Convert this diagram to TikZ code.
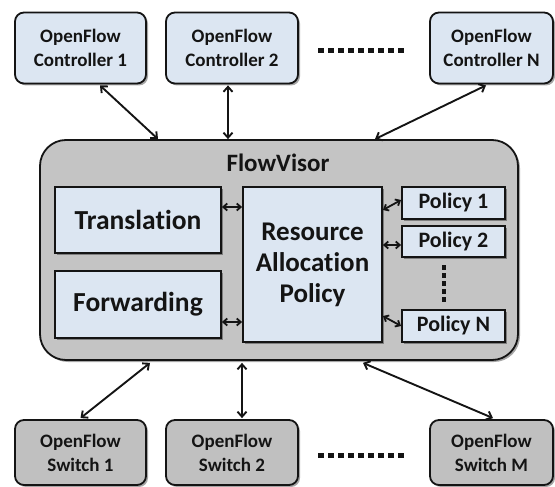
\documentclass[tikz,border=0pt]{standalone}
\usepackage{fontspec}
\setmainfont{Carlito}[Ligatures={NoCommon}]
\usetikzlibrary{calc,shadows,arrows.meta}
\definecolor{lblue}{RGB}{220,230,242}
\definecolor{lgray}{RGB}{192,192,192}
\definecolor{fvgray}{RGB}{196,196,196}
\definecolor{ink}{RGB}{20,20,20}
\tikzset{
  shad/.style={drop shadow={shadow xshift=2pt,shadow yshift=-2pt,opacity=0.35,fill=black}},
  ctrl/.style={draw=ink,line width=1.8pt,rounded corners=9pt,fill=lblue,shad,
    align=center,text=ink,font=\bfseries\fontsize{19}{24}\selectfont,inner sep=0pt},
  sw/.style={ctrl,fill=lgray},
  inbox/.style={draw=ink,line width=1.8pt,fill=lblue,shad,align=center,text=ink,inner sep=0pt},
  conn/.style={draw=ink,line width=1.9pt,{Straight Barb[length=5pt,width=9pt]}-{Straight Barb[length=5pt,width=9pt]}},
  conns/.style={draw=ink,line width=1.8pt,{Straight Barb[length=4pt,width=7pt]}-{Straight Barb[length=4pt,width=7pt]}},
  dotline/.style={draw=ink,line width=5pt,dash pattern=on 6pt off 4pt}
}
\begin{document}
\begin{tikzpicture}[x=1pt,y=-1pt]
\useasboundingbox (0,0) rectangle (555,487);
% controllers
\node[ctrl,minimum width=131pt,minimum height=71pt] (c1) at (80.5,48) {OpenFlow\\Controller 1};
\node[ctrl,minimum width=132pt,minimum height=71pt] (c2) at (232,48) {OpenFlow\\Controller 2};
\node[ctrl,minimum width=123pt,minimum height=71pt] (cN) at (491.5,48) {OpenFlow\\Controller N};
\coordinate (cd1) at (318,51);
\coordinate (cd2) at (405,51);
\draw[dotline] (cd1) -- (cd2);
% FlowVisor
\node[draw=ink,line width=1.8pt,rounded corners=26pt,fill=fvgray,shad,
  minimum width=478pt,minimum height=220pt,inner sep=0pt] (fv) at (279,250) {};
\node[text=ink,font=\bfseries\fontsize{25}{30}\selectfont] (fvt) at (278,163) {FlowVisor};
\node[inbox,minimum width=166pt,minimum height=66pt,font=\bfseries\fontsize{27.5}{31}\selectfont] (tr) at (138,220) {Translation};
\node[inbox,minimum width=166pt,minimum height=67pt,font=\bfseries\fontsize{27.5}{31}\selectfont] (fw) at (138,304.5) {Forwarding};
\node[inbox,minimum width=139pt,minimum height=155pt,font=\bfseries\fontsize{27}{31}\selectfont] (ra) at (312.5,264.5) {Resource\\Allocation\\Policy};
\node[inbox,minimum width=103pt,minimum height=32pt,font=\bfseries\fontsize{22}{26}\selectfont] (p1) at (453.5,203) {Policy 1};
\node[inbox,minimum width=103pt,minimum height=31pt,font=\bfseries\fontsize{22}{26}\selectfont] (p2) at (453.5,241.5) {Policy 2};
\node[inbox,minimum width=103pt,minimum height=32pt,font=\bfseries\fontsize{22}{26}\selectfont] (pN) at (453.5,326) {Policy N};
\coordinate (pd1) at (444,265);
\coordinate (pd2) at (444,304);
\draw[dotline,line width=4.5pt,dash pattern=on 5pt off 3pt] (pd1) -- (pd2);
% switches
\node[sw,minimum width=131pt,minimum height=65pt] (s1) at (80.5,452.5) {OpenFlow\\Switch 1};
\node[sw,minimum width=132pt,minimum height=65pt] (s2) at (232,452.5) {OpenFlow\\Switch 2};
\node[sw,minimum width=123pt,minimum height=65pt] (sM) at (491.5,452.5) {OpenFlow\\Switch M};
\coordinate (sd1) at (318,455);
\coordinate (sd2) at (405,455);
\draw[dotline] (sd1) -- (sd2);
% connectors controllers
\draw[conn] ($(c1.south)+(19.5,1)$) -- ($(fv.north)+(-121,0)$);
\draw[conn] ($(c2.south)+(-4,1)$) -- ($(fv.north)+(-51,0)$);
\draw[conn] ($(cN.south)+(-5.5,1)$) -- ($(fv.north)+(96,0)$);
% connectors switches
\draw[conn] ($(fv.south)+(-129,2)$) -- ($(s1.north)+(0,-1)$);
\draw[conn] ($(fv.south)+(-37,2)$) -- ($(s2.north)+(10,-1)$);
\draw[conn] ($(fv.south)+(84,2)$) -- ($(sM.north)+(1.5,-1)$);
% inner connectors
\draw[conns] ($(tr.east)+(0,-13)$) -- ($(ra.west)+(0,-57.5)$);
\draw[conns] ($(fw.east)+(0,17.5)$) -- ($(ra.west)+(0,57.5)$);
\draw[conns] ($(ra.east)+(0,-54.5)$) -- ($(p1.west)+(0,-3)$);
\draw[conns] ($(ra.east)+(0,-19.5)$) -- ($(p2.west)+(0,3.5)$);
\draw[conns] ($(ra.east)+(0,51.5)$) -- ($(pN.west)+(0,0)$);
\end{tikzpicture}
\end{document}
